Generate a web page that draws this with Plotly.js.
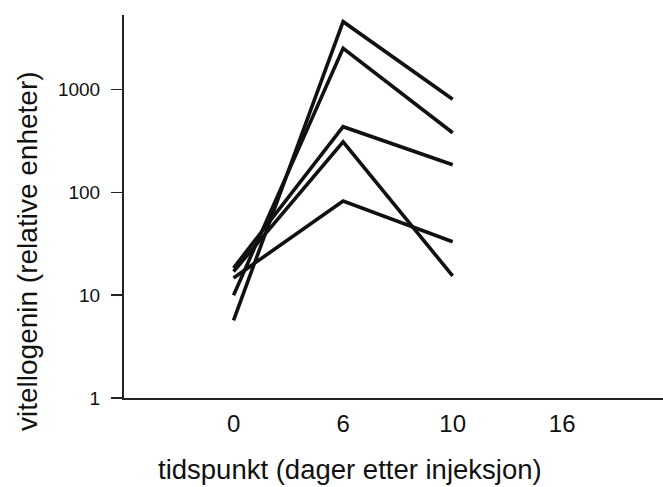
<!DOCTYPE html>
<html>
<head>
<meta charset="utf-8">
<script src="https://cdn.plot.ly/plotly-3.0.1.min.js"></script>
<style>html,body{margin:0;padding:0;background:#fff;}#chart{width:663px;height:487px;}</style>
</head>
<body>
<div id="chart"></div>
<script>
// Time points (days after injection) – drawn at equally spaced category positions
const timeLabels = ['0', '6', '10', '16'];
const timePos = [0, 1, 2, 3];

// Vitellogenin (relative units), one series per fish, measured at days 0, 6, 10
const fish1 = [5.7, 4580, 805];
const fish2 = [10.0, 2520, 381];
const fish3 = [18.4, 436, 186];
const fish4 = [17.0, 311, 15.4];
const fish5 = [14.7, 82.5, 33.1];
const series = [fish1, fish2, fish3, fish4, fish5];

const yTickVals = [1, 10, 100, 1000];
const yTickText = ['1', '10', '100', '1000'];

const traces = series.map(vals => ({
  x: timePos.slice(0, vals.length),
  y: vals,
  type: 'scatter',
  mode: 'lines',
  line: {color: '#111', width: 3.6},
  showlegend: false,
  hoverinfo: 'y'
}));

const font = 'Liberation Sans, Arial, Helvetica, sans-serif';

const layout = {
  width: 663,
  height: 487,
  margin: {l: 124, r: 0, t: 15, b: 89},
  paper_bgcolor: '#fff',
  plot_bgcolor: '#fff',
  font: {family: font, color: '#111'},
  showlegend: false,
  xaxis: {
    range: [-1, 3.92],
    tickvals: timePos,
    ticktext: timeLabels,
    ticks: '',
    showgrid: false,
    zeroline: false,
    showline: true,
    linecolor: '#222',
    linewidth: 2,
    tickfont: {size: 24, family: font, color: '#111'},
    ticklabelstandoff: 3
  },
  yaxis: {
    type: 'log',
    range: [0, 3.726],
    tickvals: yTickVals,
    ticktext: yTickText,
    ticks: 'outside',
    ticklen: 11,
    tickwidth: 1.5,
    tickcolor: '#222',
    showgrid: false,
    zeroline: false,
    showline: true,
    linecolor: '#222',
    linewidth: 2,
    tickfont: {size: 19, family: font, color: '#111'},
    ticklabelstandoff: 7
  },
  annotations: [
    {
      text: 'tidspunkt (dager etter injeksjon)',
      xref: 'paper', yref: 'paper',
      x: (350 - 124) / 539, y: (398 - 469) / 383,
      xanchor: 'center', yanchor: 'middle',
      showarrow: false,
      font: {size: 27.5, family: font, color: '#111'}
    },
    {
      text: 'vitellogenin (relative enheter)',
      xref: 'paper', yref: 'paper',
      x: (27 - 124) / 539, y: (398 - 251) / 383,
      xanchor: 'center', yanchor: 'middle',
      textangle: -90,
      showarrow: false,
      font: {size: 28, family: font, color: '#111'}
    }
  ]
};

Plotly.newPlot('chart', traces, layout, {staticPlot: true, displayModeBar: false});
</script>
</body>
</html>
